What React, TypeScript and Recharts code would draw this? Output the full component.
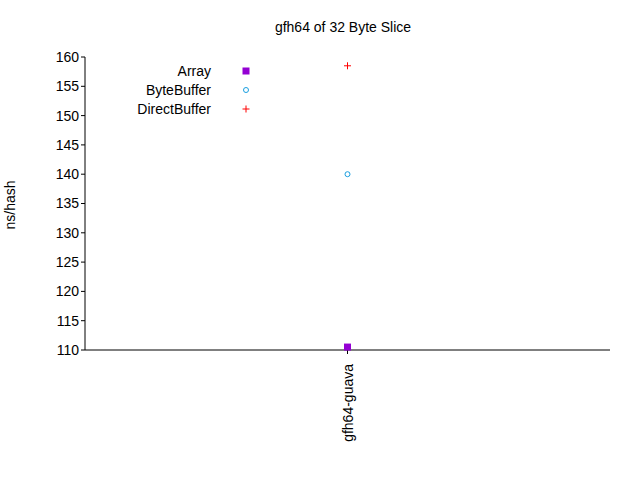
import React from 'react';
import { ComposedChart, Scatter, XAxis, YAxis } from 'recharts';

const categories = ['gfh64-guava'];
const arrayValues = [110.5];
const byteBufferValues = [140];
const directBufferValues = [158.5];
const yTicks = [110, 115, 120, 125, 130, 135, 140, 145, 150, 155, 160];

const font = '"Liberation Sans", Arial, sans-serif';

const toRows = (vals: number[]) => categories.map((name, i) => ({ name, value: vals[i] }));

const series = [
  { key: 'Array', color: '#9400d3', data: toRows(arrayValues), kind: 'square' },
  { key: 'ByteBuffer', color: '#1a9fe0', data: toRows(byteBufferValues), kind: 'circle' },
  { key: 'DirectBuffer', color: '#ff0000', data: toRows(directBufferValues), kind: 'plus' },
];

const Marker = ({ cx, cy, kind, color }: any) => {
  if (kind === 'square') return <rect x={cx - 3.5} y={cy - 3.5} width={7} height={7} fill={color} />;
  if (kind === 'circle') return <circle cx={cx} cy={cy} r={2.5} fill="none" stroke={color} strokeWidth={1} />;
  return (
    <g stroke={color} strokeWidth={1}>
      <line x1={cx - 3.5} y1={cy} x2={cx + 3.5} y2={cy} />
      <line x1={cx} y1={cy - 3.5} x2={cx} y2={cy + 3.5} />
    </g>
  );
};

const XTick = ({ x, y, payload }: any) => (
  <text x={x + 5} y={y + 8} transform={`rotate(-90 ${x + 5} ${y + 8})`} textAnchor="end" fontFamily={font} fontSize={14} fill="#000">
    {payload.value}
  </text>
);

export default function App() {
  return (
    <div style={{ position: 'absolute', left: 0, top: 0, width: 640, height: 480, background: '#fff' }}>
      <ComposedChart width={640} height={480} margin={{ top: 57, right: 30, bottom: 0, left: 0 }}>
        <text x={343} y={32} textAnchor="middle" fontFamily={font} fontSize={14} fill="#000">gfh64 of 32 Byte Slice</text>
        <text x={15} y={205} transform="rotate(-90 15 205)" textAnchor="middle" fontFamily={font} fontSize={14} fill="#000">ns/hash</text>
        {series.map((s, i) => (
          <g key={s.key}>
            <text x={211} y={76 + i * 19} textAnchor="end" fontFamily={font} fontSize={14} fill="#000">{s.key}</text>
            <Marker cx={246} cy={71 + i * 19} kind={s.kind} color={s.color} />
          </g>
        ))}
        <XAxis dataKey="name" type="category" allowDuplicatedCategory={false} height={130} tick={<XTick />} tickSize={4} stroke="#000" interval={0} />
        <YAxis type="number" domain={[110, 160]} ticks={yTicks} width={85} tickSize={4} stroke="#000"
          tick={{ fontFamily: font, fontSize: 14, fill: '#000' }} />
        {series.map(s => (
          <Scatter key={s.key} name={s.key} data={s.data} dataKey="value" isAnimationActive={false}
            shape={(p: any) => <Marker cx={p.cx} cy={p.cy} kind={s.kind} color={s.color} />} />
        ))}
      </ComposedChart>
    </div>
  );
}
